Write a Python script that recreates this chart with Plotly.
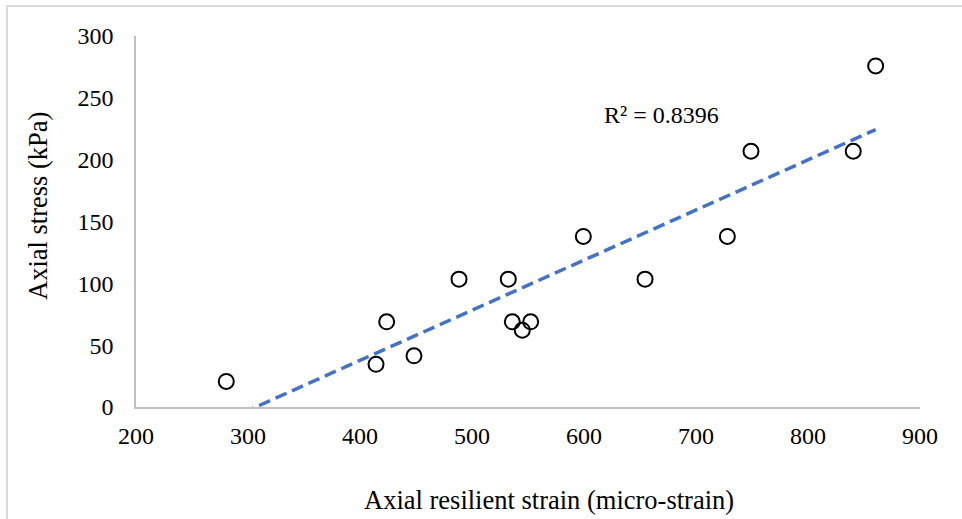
import numpy as np
import plotly.graph_objects as go

# Data
strain_micro = [280.6, 414.3, 423.8, 448.2, 488.4, 532.4, 536.0, 544.9, 552.4,
                599.4, 654.5, 728.0, 749.1, 840.4, 860.4]
stress_kpa = [20.7, 34.5, 68.9, 41.4, 103.4, 103.4, 68.9, 62.1, 68.9,
              137.9, 103.4, 137.9, 206.8, 206.8, 275.8]
x_ticks = [200, 300, 400, 500, 600, 700, 800, 900]
y_ticks = [0, 50, 100, 150, 200, 250, 300]
r2_label = "R² = 0.8396"
x_title = "Axial resilient strain (micro-strain)"
y_title = "Axial stress (kPa)"

# Linear trendline (least squares), spanning the data range
slope, intercept = np.polyfit(strain_micro, stress_kpa, 1)
trend_x = [min(strain_micro), max(strain_micro)]
trend_y = [slope * v + intercept for v in trend_x]

W, H = 962, 519
L, R, T, B = 136, 42, 36, 112
pw, ph = W - L - R, H - T - B

def px_to_paper_x(px):
    return (px - L) / pw

def px_to_paper_y(py):
    return (H - B - py) / ph

FONT = "Liberation Serif, Times New Roman, serif"

fig = go.Figure()
fig.add_trace(go.Scatter(
    x=trend_x, y=trend_y, mode="lines",
    line=dict(color="#4472C4", width=3.5, dash="12px,6px"),
    hoverinfo="skip", showlegend=False,
))
fig.add_trace(go.Scatter(
    x=strain_micro, y=stress_kpa, mode="markers",
    marker=dict(symbol="circle-open", size=15, color="black",
                line=dict(color="black", width=2)),
    showlegend=False,
))

fig.update_layout(
    width=W, height=H,
    margin=dict(l=L, r=R, t=T, b=B),
    paper_bgcolor="white", plot_bgcolor="white",
    font=dict(family=FONT, size=24, color="black"),
    xaxis=dict(range=[200, 900], tickvals=x_ticks, showgrid=False, zeroline=False,
               showline=True, linecolor="#BFBFBF", linewidth=1.5,
               ticks="", ticklabelstandoff=6,
               tickfont=dict(family=FONT, size=24, color="black")),
    yaxis=dict(range=[0, 300], tickvals=y_ticks, showgrid=False, zeroline=False,
               showline=True, linecolor="#BFBFBF", linewidth=1.5,
               ticks="", ticklabelstandoff=16,
               tickfont=dict(family=FONT, size=24, color="black")),
    annotations=[
        dict(text=r2_label, x=669.5, y=236, xref="x", yref="y",
             showarrow=False, font=dict(family=FONT, size=24, color="black"),
             xanchor="center", yanchor="middle"),
        dict(text=x_title, x=px_to_paper_x(549), y=px_to_paper_y(500),
             xref="paper", yref="paper", showarrow=False,
             font=dict(family=FONT, size=26.5, color="black"),
             xanchor="center", yanchor="middle"),
        dict(text=y_title, x=px_to_paper_x(38), y=px_to_paper_y(206),
             xref="paper", yref="paper", showarrow=False, textangle=-90,
             font=dict(family=FONT, size=26.5, color="black"),
             xanchor="center", yanchor="middle"),
    ],
    shapes=[
        dict(type="rect", xref="paper", yref="paper",
             x0=px_to_paper_x(7), x1=px_to_paper_x(975),
             y0=px_to_paper_y(540), y1=px_to_paper_y(6),
             line=dict(color="#D9D9D9", width=2), fillcolor="rgba(0,0,0,0)",
             layer="below"),
    ],
)

fig.write_html("out.html")
